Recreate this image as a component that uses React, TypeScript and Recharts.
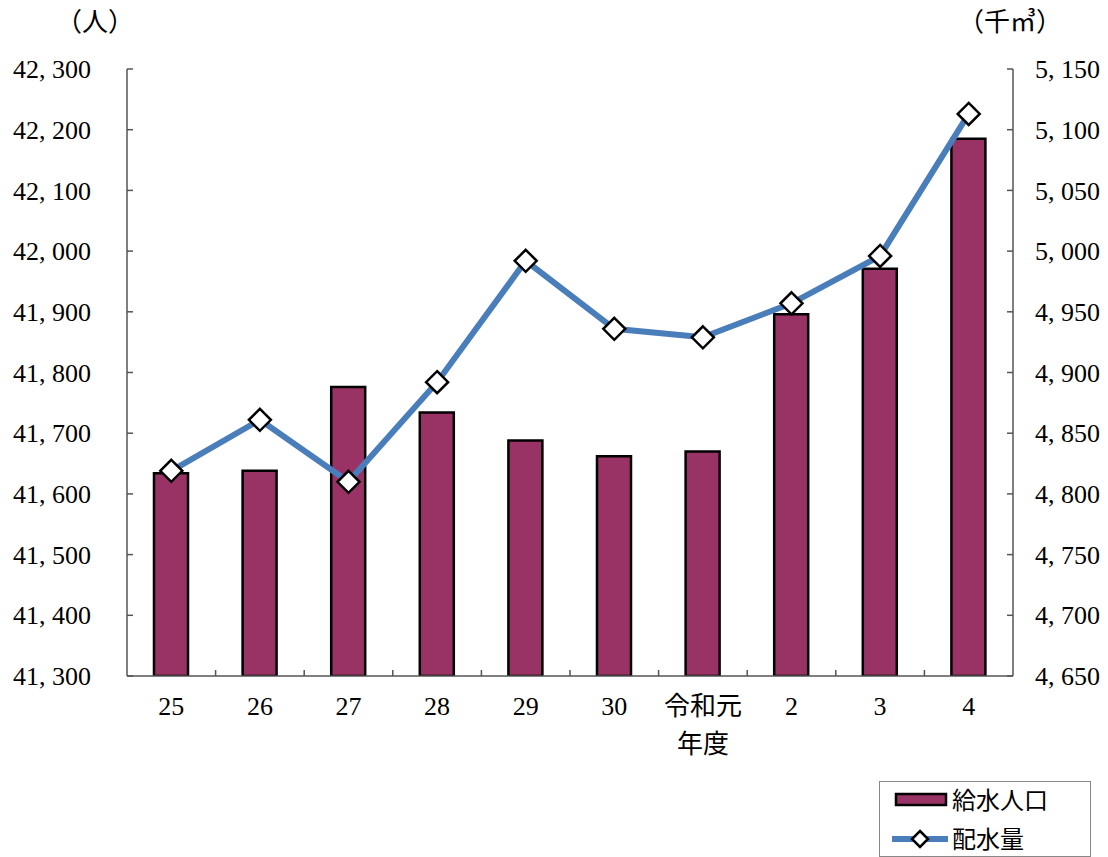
import { Bar, ComposedChart, Line, XAxis, YAxis } from "recharts";

const categories = ["25", "26", "27", "28", "29", "30", "令和元", "2", "3", "4"];
// 給水人口 (人)
const population = [41634, 41638, 41776, 41734, 41688, 41662, 41670, 41896, 41971, 42185];
// 配水量 (千㎥)
const distribution = [4819, 4861, 4810, 4892, 4992, 4936, 4929, 4957, 4996, 5113];
const leftTicks = [41300, 41400, 41500, 41600, 41700, 41800, 41900, 42000, 42100, 42200, 42300];
const rightTicks = [4650, 4700, 4750, 4800, 4850, 4900, 4950, 5000, 5050, 5100, 5150];

const W = 1108;
const H = 857;
const LEFT_W = 127;
const RIGHT_W = 95;
const TOP = 69;
const XAXIS_H = 181;
const band = (W - LEFT_W - RIGHT_W) / categories.length;

const FONT = "'Liberation Serif', 'Noto Sans CJK JP', serif";
const BAR = "#993366";
const LINE = "#4a7ebb";
const AXIS = "#555";

const fmt = (v: number) => v.toLocaleString("en-US").replace(",", ", ");

const data = categories.map((c, i) => ({
  name: c,
  pop: population[i],
  dist: distribution[i],
}));

const LeftTick = (p: any) => {
  const m = 36;
  return (
    <g>
      <line x1={p.x + m} x2={p.x + m + 6} y1={p.y} y2={p.y} stroke={AXIS} strokeWidth={1.5} />
      <text x={p.x} y={p.y} dy="0.35em" textAnchor="end" fontSize={26} fontFamily={FONT} fill="#000">
        {fmt(p.payload.value)}
      </text>
    </g>
  );
};

const RightTick = (p: any) => {
  const m = 22;
  return (
    <g>
      <line x1={p.x - m} x2={p.x - m - 6} y1={p.y} y2={p.y} stroke={AXIS} strokeWidth={1.5} />
      <text x={p.x} y={p.y} dy="0.35em" textAnchor="start" fontSize={26} fontFamily={FONT} fill="#000">
        {fmt(p.payload.value)}
      </text>
    </g>
  );
};

const CatTick = (p: any) => {
  const v = p.payload.value;
  const idx = p.index ?? categories.indexOf(v);
  return (
    <g>
      {idx > 0 && (
        <line x1={p.x - band / 2} x2={p.x - band / 2} y1={p.y} y2={p.y - 6} stroke={AXIS} strokeWidth={1.5} />
      )}
      <text x={p.x} y={p.y + 39} textAnchor="middle" fontSize={26} fontFamily={FONT} fill="#000">
        {v}
      </text>
      {v === "令和元" && (
        <text x={p.x} y={p.y + 77} textAnchor="middle" fontSize={26} fontFamily={FONT} fill="#000">
          年度
        </text>
      )}
    </g>
  );
};

const Diamond = (p: any) => {
  const { cx, cy } = p;
  if (cx == null || cy == null) return <g />;
  const r = 11;
  return (
    <path
      d={`M${cx},${cy - r} L${cx + r},${cy} L${cx},${cy + r} L${cx - r},${cy} Z`}
      fill="#fff"
      stroke="#000"
      strokeWidth={2.5}
    />
  );
};

export default function App() {
  return (
    <div style={{ position: "absolute", left: 0, top: 0, width: W, height: H, background: "#fff" }}>
      <ComposedChart width={W} height={H} data={data} margin={{ top: TOP, right: 0, bottom: 0, left: 0 }}>
        <XAxis
          dataKey="name"
          xAxisId="x"
          height={XAXIS_H}
          interval={0}
          tickLine={false}
          tickSize={0}
          tickMargin={0}
          axisLine={{ stroke: AXIS, strokeWidth: 1.5 }}
          tick={<CatTick />}
        />
        <XAxis xAxisId="top" dataKey="name" orientation="top" height={0} tick={false} tickLine={false} axisLine={{ stroke: AXIS, strokeWidth: 1.5 }} />
        <YAxis
          yAxisId="left"
          width={LEFT_W}
          domain={[41300, 42300]}
          ticks={leftTicks}
          interval={0}
          tickLine={false}
          tickSize={0}
          tickMargin={36}
          axisLine={{ stroke: AXIS, strokeWidth: 1.5 }}
          tick={<LeftTick />}
          allowDataOverflow
        />
        <YAxis
          yAxisId="right"
          orientation="right"
          width={RIGHT_W}
          domain={[4650, 5150]}
          ticks={rightTicks}
          interval={0}
          tickLine={false}
          tickSize={0}
          tickMargin={22}
          axisLine={{ stroke: AXIS, strokeWidth: 1.5 }}
          tick={<RightTick />}
          allowDataOverflow
        />
        <Bar
          dataKey="pop"
          xAxisId="x"
          yAxisId="left"
          barSize={34}
          fill={BAR}
          stroke="#000"
          strokeWidth={2.5}
          isAnimationActive={false}
        />
        <Line
          dataKey="dist"
          xAxisId="x"
          yAxisId="right"
          stroke={LINE}
          strokeWidth={6}
          type="linear"
          dot={<Diamond />}
          activeDot={false}
          isAnimationActive={false}
        />
      </ComposedChart>

      <div style={{ position: "absolute", left: 0, top: 0, width: W, height: 60, pointerEvents: "none" }}>
        <svg width={W} height={60}>
          <text x={95} y={31} textAnchor="middle" fontSize={26} fontFamily={FONT} fill="#000">（人）</text>
          <text x={1010} y={31} textAnchor="middle" fontSize={26} fontFamily={FONT} fill="#000">（千㎥）</text>
        </svg>
      </div>

      <div
        style={{
          position: "absolute",
          left: 879,
          top: 781,
          width: 210,
          height: 74,
          border: "1.5px solid #888",
          background: "#fff",
        }}
      >
        <svg width={210} height={74}>
          <rect x={16} y={12} width={50} height={11} fill={BAR} stroke="#000" strokeWidth={2.5} />
          <text x={72} y={27} fontSize={24} fontFamily={FONT} fill="#000">給水人口</text>
          <line x1={12} x2={68} y1={57} y2={57} stroke={LINE} strokeWidth={6} />
          <path d="M40,49 L48,57 L40,65 L32,57 Z" fill="#fff" stroke="#000" strokeWidth={2.5} />
          <text x={72} y={66} fontSize={24} fontFamily={FONT} fill="#000">配水量</text>
        </svg>
      </div>
    </div>
  );
}
